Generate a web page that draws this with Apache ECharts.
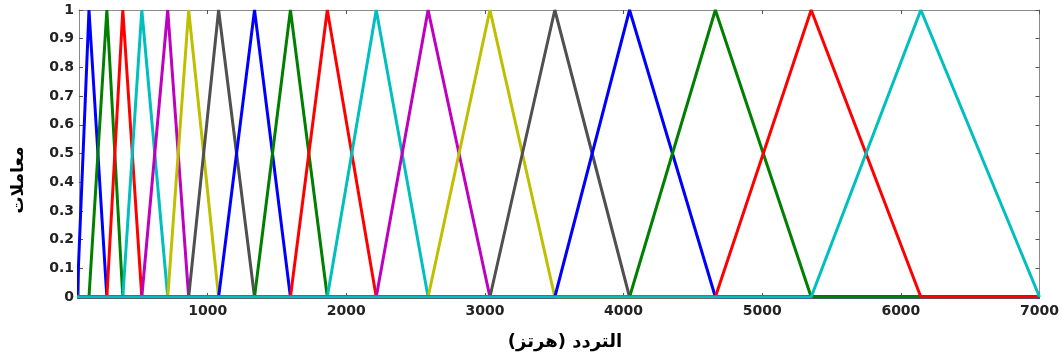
<!DOCTYPE html>
<html>
<head>
<meta charset="utf-8">
<script src="https://cdn.jsdelivr.net/npm/echarts@6/dist/echarts.min.js"></script>
<style>
html,body{margin:0;padding:0;background:#fff;}
#c{width:1062px;height:360px;}
</style>
</head>
<body>
<div id="c"></div>
<script>
// Filter edge frequencies (Hz): filter i runs edges[i] -> edges[i+1] (peak) -> edges[i+2]
const edges = [59, 144, 273, 388, 525, 712, 863, 1079, 1338, 1597, 1863, 2216, 2590, 3036, 3504, 4043, 4662, 5353, 6144, 7000];
const filterColors = ['#0000ff', '#007f00', '#ff0000', '#00bfbf', '#bf00bf', '#bfbf00', '#505050'];
const xTicks = [1000, 2000, 3000, 4000, 5000, 6000, 7000];
const yTicks = [0, 0.1, 0.2, 0.3, 0.4, 0.5, 0.6, 0.7, 0.8, 0.9, 1];
const xMin = 72, xMax = 7000;
const xName = 'التردد (هرتز)';
const yName = 'معاملات';

const series = [];
for (let i = 0; i + 2 < edges.length; i++) {
  const lo = edges[i], pk = edges[i + 1], hi = edges[i + 2];
  series.push({
    type: 'line',
    data: [[0, 0], [lo, 0], [pk, 1], [hi, 0], [xMax, 0]],
    symbol: 'none',
    lineStyle: { color: filterColors[i % filterColors.length], width: 3 },
    clip: true,
    animation: false
  });
}

const axisColor = '#8a8a8a';
const labelFont = { fontFamily: 'DejaVu Sans', fontWeight: 'bold', fontSize: 14, color: '#222' };

const chart = echarts.init(document.getElementById('c'), null, { renderer: 'canvas' });
chart.setOption({
  animation: false,
  backgroundColor: '#fff',
  grid: { left: 79, right: 19, top: 10, bottom: 63, containLabel: false },
  xAxis: [{
    type: 'value', min: xMin, max: xMax, position: 'bottom',
    axisLine: { show: true, onZero: false, lineStyle: { color: axisColor, width: 1 } },
    axisTick: { show: true, inside: true, length: 4, customValues: xTicks, lineStyle: { color: '#555' } },
    axisLabel: Object.assign({ show: true, margin: 7, customValues: xTicks, formatter: v => String(v) }, labelFont),
    splitLine: { show: false }
  }, {
    type: 'value', min: xMin, max: xMax, position: 'top',
    axisLine: { show: true, onZero: false, lineStyle: { color: axisColor, width: 1 } },
    axisTick: { show: true, inside: true, length: 4, customValues: xTicks, lineStyle: { color: '#555' } },
    axisLabel: { show: false },
    splitLine: { show: false }
  }],
  yAxis: [{
    type: 'value', min: 0, max: 1, interval: 0.1, position: 'left',
    axisLine: { show: true, onZero: false, lineStyle: { color: axisColor, width: 1 } },
    axisTick: { show: true, inside: true, length: 4, lineStyle: { color: '#555' } },
    axisLabel: Object.assign({ show: true, margin: 5, formatter: v => String(Math.round(v * 10) / 10) }, labelFont),
    splitLine: { show: false }
  }, {
    type: 'value', min: 0, max: 1, interval: 0.1, position: 'right',
    axisLine: { show: true, onZero: false, lineStyle: { color: axisColor, width: 1 } },
    axisTick: { show: true, inside: true, length: 4, lineStyle: { color: '#555' } },
    axisLabel: { show: false },
    splitLine: { show: false }
  }],
  series: series,
  graphic: [{
    type: 'text', x: 565, y: 342,
    style: { text: xName, fontFamily: 'DejaVu Sans', fontWeight: 'bold', fontSize: 18, fill: '#000', align: 'center', verticalAlign: 'middle' }
  }, {
    type: 'text', x: 19, y: 180, rotation: Math.PI / 2,
    style: { text: yName, fontFamily: 'DejaVu Sans', fontWeight: 'bold', fontSize: 17, fill: '#000', align: 'center', verticalAlign: 'middle' }
  }]
});
</script>
</body>
</html>
